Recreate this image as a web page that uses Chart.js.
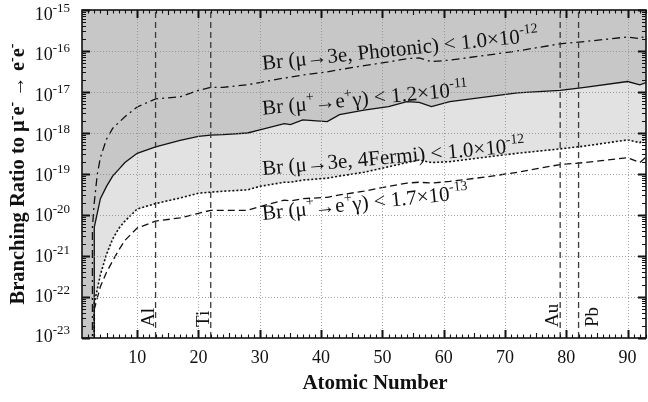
<!DOCTYPE html>
<html>
<head>
<meta charset="utf-8">
<script src="https://cdn.jsdelivr.net/npm/chart.js@4.4.1/dist/chart.umd.min.js"></script>
<style>
  html, body { margin: 0; padding: 0; background: #fff; }
</style>
</head>
<body>
<canvas id="myChart" width="648" height="402"></canvas>
<script>
// atomic number Z for the three lower curves (first Z=3 point drops off the bottom)
const zAtom = [3, 3, 4, 5, 6, 7, 8, 10, 13, 17, 20, 22, 24, 28, 30, 34, 35, 37, 41, 43, 47, 51, 54, 56, 58, 61, 67, 72, 79, 83, 90, 92, 93];
// Br(mu+ -> e+ gamma) < 1.2e-11  (solid)
const brGamma12 = [1e-25, 5.0e-21, 2.5e-20, 5.0e-20, 8.9e-20, 1.3e-19, 1.9e-19, 3.2e-19, 4.6e-19, 6.6e-19, 8.3e-19, 8.9e-19, 9.1e-19, 1.0e-18, 1.2e-18, 1.7e-18, 1.6e-18, 2.1e-18, 1.9e-18, 2.8e-18, 3.6e-18, 4.4e-18, 5.8e-18, 5.6e-18, 4.4e-18, 5.8e-18, 7.6e-18, 9.5e-18, 1.1e-17, 1.3e-17, 1.8e-17, 1.5e-17, 1.7e-17];
// Br(mu -> 3e, 4Fermi) < 1.0e-12  (dotted)
const br4Fermi = [1e-25, 7.0e-23, 3.5e-22, 1.1e-21, 2.6e-21, 4.7e-21, 7.1e-21, 1.4e-20, 1.9e-20, 2.6e-20, 3.4e-20, 3.6e-20, 3.8e-20, 4.1e-20, 5.0e-20, 6.3e-20, 6.3e-20, 7.1e-20, 7.9e-20, 8.9e-20, 1.1e-19, 1.5e-19, 1.9e-19, 2.2e-19, 1.9e-19, 2.0e-19, 2.6e-19, 3.2e-19, 4.1e-19, 4.8e-19, 6.8e-19, 5.8e-19, 7.6e-19];
// Br(mu+ -> e+ gamma) < 1.7e-13  (dashed)
const brGamma17 = [1e-25, 5.0e-23, 1.8e-22, 4.0e-22, 7.6e-22, 1.4e-21, 2.4e-21, 4.8e-21, 7.1e-21, 8.5e-21, 1.1e-20, 1.3e-20, 1.3e-20, 1.3e-20, 1.6e-20, 2.3e-20, 2.2e-20, 2.5e-20, 2.7e-20, 3.1e-20, 3.8e-20, 5.0e-20, 6.0e-20, 6.3e-20, 6.0e-20, 6.6e-20, 8.5e-20, 1.1e-19, 1.7e-19, 1.9e-19, 2.5e-19, 1.9e-19, 2.6e-19];
// Br(mu -> 3e, Photonic) < 1.0e-12  (dash-dot)
const zPhot = [2.7, 2.7, 3, 3.5, 4, 5, 6, 8, 10, 13, 17, 20, 22, 24, 28, 30, 34, 35, 37, 41, 43, 47, 51, 54, 56, 58, 61, 67, 72, 79, 83, 90, 92, 93];
const brPhot = [1e-25, 5.0e-21, 2.0e-20, 1.0e-19, 2.5e-19, 7.1e-19, 1.3e-18, 2.5e-18, 4.3e-18, 6.8e-18, 7.6e-18, 1.1e-17, 1.3e-17, 1.3e-17, 1.5e-17, 1.7e-17, 2.2e-17, 2.3e-17, 2.6e-17, 3.1e-17, 3.5e-17, 4.4e-17, 5.4e-17, 6.5e-17, 6.8e-17, 5.5e-17, 6.0e-17, 7.9e-17, 1.0e-16, 1.5e-16, 1.7e-16, 2.2e-16, 2.0e-16, 2.4e-16];

const elemZ = [13, 22, 79, 82];
const elemName = ['Al', 'Ti', 'Au', 'Pb'];

const xTicks = [10, 20, 30, 40, 50, 60, 70, 80, 90];
const yTicks = [1e-23, 1e-22, 1e-21, 1e-20, 1e-19, 1e-18, 1e-17, 1e-16, 1e-15];

const SERIF = '"Liberation Serif", "DejaVu Serif", serif';
const DARK = '#c7c7c7';
const LIGHT = '#e2e2e3';

function pts(xs, ys) {
  return xs.map((x, i) => ({ x: x, y: ys[i] }));
}

// text made of pieces, [string, isSuperscript]
function partsWidth(ctx, parts, size, sup, weight) {
  let w = 0;
  parts.forEach(p => {
    ctx.font = weight + ' ' + (p[1] ? sup : size) + 'px ' + SERIF;
    w += ctx.measureText(p[0]).width;
  });
  return w;
}
function drawParts(ctx, parts, x, y, size, sup, rise, weight) {
  parts.forEach(p => {
    ctx.font = weight + ' ' + (p[1] ? sup : size) + 'px ' + SERIF;
    ctx.fillText(p[0], x, p[1] ? y - rise : y);
    x += ctx.measureText(p[0]).width;
  });
}

const curveLabels = [
  { z: 30.5, v: 3.5e-17, ang: -5.9, parts: [['Br (\u03bc\u21923e, Photonic) < 1.0\u00d710', 0], ['-12', 1]] },
  { z: 30.5, v: 2.8e-18, ang: -5.4, parts: [['Br (\u03bc', 0], ['+', 1], ['\u2192e', 0], ['+', 1], ['\u03b3) < 1.2\u00d710', 0], ['-11', 1]] },
  { z: 30.5, v: 9.5e-20, ang: -5.1, parts: [['Br (\u03bc\u21923e, 4Fermi) < 1.0\u00d710', 0], ['-12', 1]] },
  { z: 30.5, v: 7.6e-21, ang: -5.9, parts: [['Br (\u03bc', 0], ['+', 1], ['\u2192e', 0], ['+', 1], ['\u03b3) < 1.7\u00d710', 0], ['-13', 1]] }
];

const furniture = {
  id: 'furniture',
  beforeDraw(chart) {
    const a = chart.chartArea, c = chart.ctx;
    c.save();
    c.fillStyle = DARK;
    c.fillRect(a.left, a.top, a.right - a.left, a.bottom - a.top);
    c.restore();
  },
  afterDatasetsDraw(chart) {
    const a = chart.chartArea, c = chart.ctx;
    const xs = chart.scales.x, ys = chart.scales.y;
    c.save();

    // dotted grid
    c.strokeStyle = '#8a8a8a';
    c.lineWidth = 0.8;
    c.setLineDash([1, 2]);
    xTicks.forEach(t => {
      const px = Math.round(xs.getPixelForValue(t)) + 0.5;
      c.beginPath(); c.moveTo(px, a.top); c.lineTo(px, a.bottom); c.stroke();
    });
    yTicks.slice(1, -1).forEach(t => {
      const py = Math.round(ys.getPixelForValue(t)) + 0.5;
      c.beginPath(); c.moveTo(a.left, py); c.lineTo(a.right, py); c.stroke();
    });
    c.setLineDash([]);

    // frame + ticks
    c.strokeStyle = '#111';
    c.lineWidth = 1.6;
    c.strokeRect(a.left, a.top, a.right - a.left, a.bottom - a.top);
    for (let z = 2; z <= 93; z++) {
      const px = Math.round(xs.getPixelForValue(z)) + 0.5;
      const len = z % 10 === 0 ? 8 : (z % 5 === 0 ? 5 : 3.5);
      c.lineWidth = z % 10 === 0 ? 2 : 1.1;
      c.beginPath();
      c.moveTo(px, a.bottom); c.lineTo(px, a.bottom - len);
      c.moveTo(px, a.top); c.lineTo(px, a.top + len);
      c.stroke();
    }
    yTicks.forEach(t => {
      for (let m = 1; m <= 9; m++) {
        const v = t * m;
        if (v > yTicks[yTicks.length - 1]) break;
        const py = Math.round(ys.getPixelForValue(v)) + 0.5;
        const len = m === 1 ? 8 : 4;
        c.lineWidth = m === 1 ? 2 : 1.1;
        c.beginPath();
        c.moveTo(a.left, py); c.lineTo(a.left + len, py);
        c.moveTo(a.right, py); c.lineTo(a.right - len, py);
        c.stroke();
      }
    });

    c.fillStyle = '#111';
    c.textBaseline = 'alphabetic';

    // x tick labels
    c.textAlign = 'center';
    c.font = '18px ' + SERIF;
    xTicks.forEach(t => {
      c.fillText(String(t), xs.getPixelForValue(t), a.bottom + 25);
    });

    // y tick labels 10^n
    c.textAlign = 'left';
    const n = yTicks.length - 1;
    yTicks.forEach((t, i) => {
      const e = Math.round(Math.log10(t));
      const parts = [['10', 0], [String(e), 1]];
      const w = partsWidth(c, parts, 18, 13, '');
      const py = ys.getPixelForValue(t) + 4 + 6 * (i / n);
      drawParts(c, parts, a.left - 12 - w, py, 18, 13, 8, '');
    });

    // element labels, vertical
    elemZ.forEach((z, i) => {
      const px = xs.getPixelForValue(z);
      const right = elemName[i] === 'Pb';
      c.save();
      c.translate(right ? px + 19 : px - 2, a.bottom - 11);
      c.rotate(-Math.PI / 2);
      c.font = '19px ' + SERIF;
      c.fillText(elemName[i], 0, 0);
      c.restore();
    });

    // curve labels
    curveLabels.forEach(l => {
      c.save();
      c.translate(xs.getPixelForValue(l.z), ys.getPixelForValue(l.v));
      c.rotate(l.ang * Math.PI / 180);
      drawParts(c, l.parts, 0, 0, 21, 14, 9, '');
      c.restore();
    });

    // axis titles
    c.font = 'bold 21px ' + SERIF;
    c.textAlign = 'center';
    c.fillText('Atomic Number', (a.left + a.right) / 2 + 11, a.bottom + 51);

    c.textAlign = 'left';
    const yt = [['Branching Ratio to \u03bc', 0], ['-', 1], ['e', 0], ['-', 1], [' \u2192 e', 0], ['-', 1], ['e', 0], ['-', 1]];
    const w = partsWidth(c, yt, 20.5, 14, 'bold');
    c.save();
    c.translate(24, (a.top + a.bottom) / 2);
    c.rotate(-Math.PI / 2);
    drawParts(c, yt, -w / 2, 0, 20.5, 14, 8, 'bold');
    c.restore();

    c.restore();
  }
};

const elemSets = elemZ.map(z => ({
  data: [{ x: z, y: yTicks[0] }, { x: z, y: yTicks[yTicks.length - 1] }],
  borderColor: '#3a3a3a',
  borderWidth: 1.3,
  borderDash: [6, 4],
  pointRadius: 0,
  fill: false,
  order: 0
}));

const ctx = document.getElementById('myChart');
new Chart(ctx, {
  type: 'line',
  data: {
    datasets: [
      { data: pts(zPhot, brPhot), borderColor: '#111', borderWidth: 1.3, borderDash: [8, 4, 2, 4], pointRadius: 0, fill: false, order: 2 },
      { data: pts(zAtom, brGamma12), borderColor: '#111', borderWidth: 1.3, pointRadius: 0, fill: '+1', backgroundColor: LIGHT, order: 3 },
      { data: pts(zAtom, br4Fermi), borderColor: '#111', borderWidth: 1.6, borderDash: [2, 2], pointRadius: 0, fill: 'start', backgroundColor: '#ffffff', order: 5 },
      { data: pts(zAtom, brGamma17), borderColor: '#111', borderWidth: 1.3, borderDash: [7, 4], pointRadius: 0, fill: false, order: 4 }
    ].concat(elemSets)
  },
  options: {
    responsive: false,
    animation: false,
    devicePixelRatio: 1,
    layout: { padding: { left: 82, top: 10, right: 2, bottom: 64 } },
    elements: { line: { tension: 0 } },
    plugins: {
      legend: { display: false },
      tooltip: { enabled: false },
      filler: { drawTime: 'beforeDatasetsDraw' }
    },
    scales: {
      x: { type: 'linear', min: 1, max: 93, display: false },
      y: { type: 'logarithmic', min: 1e-23, max: 1e-15, display: false }
    }
  },
  plugins: [furniture]
});
</script>
</body>
</html>
